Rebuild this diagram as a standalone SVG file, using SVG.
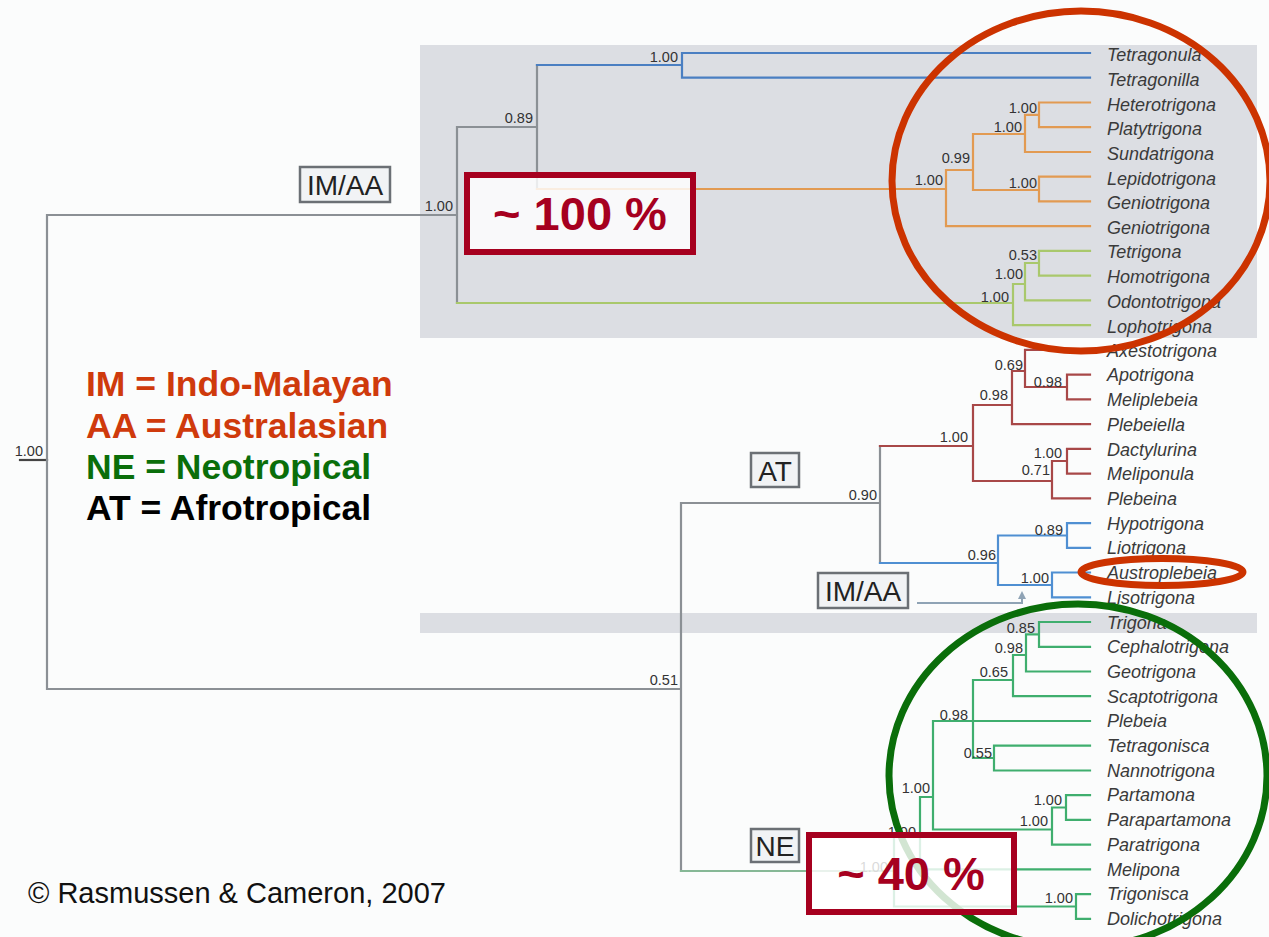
<svg xmlns="http://www.w3.org/2000/svg" width="1269" height="937" viewBox="0 0 1269 937">
  <defs>
    <style>
      .br { fill: none; stroke-width: 2.2; stroke-linecap: square; }
      .gray { stroke: #8b9095; }
      .blue { stroke: #4a7fc2; }
      .orange { stroke: #e29a52; }
      .lime { stroke: #a9c86c; }
      .red { stroke: #a84848; }
      .sky { stroke: #4f8fd2; }
      .green { stroke: #3fae6e; }
      .ne { stroke: #86b896; }
      .sup { font-family: "Liberation Sans", Arial, sans-serif; font-size: 14.5px; fill: #333; text-anchor: end; }
      .leaf text { font-family: "Liberation Sans", Arial, sans-serif; font-style: italic; font-size: 18px; fill: #3a3a3a; }
      .region rect { fill: #f1f3f5; stroke: #6b7075; stroke-width: 2.5; }
      .region text { font-family: "Liberation Sans", Arial, sans-serif; font-size: 28px; fill: #222; text-anchor: middle; }
      .pct rect { fill: #ffffff; fill-opacity: 0.82; stroke: #a6001f; stroke-width: 6; }
      .pct text { font-family: "Liberation Sans", Arial, sans-serif; font-weight: bold; font-size: 47px; fill: #a6001f; text-anchor: middle; }
      .legend text { font-family: "Liberation Sans", Arial, sans-serif; font-weight: bold; font-size: 35.5px; }
      .ring { fill: none; stroke-width: 7; }
    </style>
    <marker id="tip" viewBox="0 0 6 6" refX="3" refY="3" markerWidth="4" markerHeight="4" orient="auto">
      <path d="M0 0 L6 3 L0 6 Z" fill="#8fa3b5"/>
    </marker>
  </defs>

  <!-- page and shaded bands -->
  <rect x="0" y="0" width="1269" height="937" fill="#fbfcfc"/>
  <rect x="420" y="45" width="837" height="293" fill="#dcdee3"/>
  <rect x="420" y="613" width="837" height="20" fill="#dcdee3"/>

  <!-- branches -->
  <g id="connectors">
    <path class="br" stroke="#444" d="M20 460 H47"/>
    <path class="br gray" d="M47 215 V689 M47 215 H457 M47 689 H681 M457 127 V303 M457 127 H537 M537 65 V189 M681 503 V871 M681 503 H880 M880 446 V563"/>
    <path class="br blue" d="M537 65 H682 M682 53 V77.7 M682 53 H1090 M682 77.7 H1090"/>
    <path class="br orange" d="M537 189 H946 M946 170 V226.2 M946 226.2 H1090 M946 170 H973 M973 134 V190 M973 134 H1025 M1025 114.8 V152 M1025 152 H1090 M1025 114.8 H1039 M1039 102.5 V127.2 M1039 102.5 H1090 M1039 127.2 H1090 M973 190 H1039 M1039 176.7 V201.4 M1039 176.7 H1090 M1039 201.4 H1090"/>
    <path class="br lime" d="M457 303 H1013 M1013 284 V325.1 M1013 325.1 H1090 M1013 284 H1025 M1025 263 V300.4 M1025 300.4 H1090 M1025 263 H1039 M1039 250.9 V275.7 M1039 250.9 H1090 M1039 275.7 H1090"/>
    <path class="br red" d="M880 446 H973 M973 405 V481 M973 405 H1012 M1012 371 V424.1 M1012 424.1 H1090 M1012 371 H1025 M1025 349.9 V387 M1025 349.9 H1090 M1025 387 H1067 M1067 374.6 V399.4 M1067 374.6 H1090 M1067 399.4 H1090 M973 481 H1052 M1052 461 V498.3 M1052 498.3 H1090 M1052 461 H1067 M1067 448.8 V473.6 M1067 448.8 H1090 M1067 473.6 H1090"/>
    <path class="br sky" d="M880 563 H998 M998 535.5 V585 M998 535.5 H1067 M1067 523.1 V547.8 M1067 523.1 H1090 M1067 547.8 H1090 M998 585 H1052 M1052 572.5 V597.3 M1052 572.5 H1090 M1052 597.3 H1090"/>
    <path fill="none" stroke="#8fa3b5" stroke-width="2" d="M917 603 H1022 V595" marker-end="url(#tip)"/>
    <path class="br ne" d="M681 871 H894"/>
    <path class="br green" d="M894 834 V906.5 M894 906.5 H1076 M1076 894.2 V918.9 M1076 894.2 H1090 M1076 918.9 H1090 M894 834 H920 M920 797 V869.4 M920 869.4 H1090 M920 797 H933 M933 721 V829.5 M933 721 H1090 M933 829.5 H1052 M1052 807.5 V844.7 M1052 844.7 H1090 M1052 807.5 H1066 M1066 795.2 V819.9 M1066 795.2 H1090 M1066 819.9 H1090 M973 680 V758 M973 758 H994 M994 745.7 V770.5 M994 745.7 H1090 M994 770.5 H1090 M973 680 H1013 M1013 655 V696.2 M1013 696.2 H1090 M1013 655 H1026 M1026 634.4 V671.5 M1026 671.5 H1090 M1026 634.4 H1039 M1039 622 V646.8 M1039 622 H1090 M1039 646.8 H1090"/>
  </g>

  <!-- support values -->
  <g id="support">
    <text class="sup" x="43" y="456">1.00</text>
    <text class="sup" x="453" y="211">1.00</text>
    <text class="sup" x="533" y="123">0.89</text>
    <text class="sup" x="678" y="62">1.00</text>
    <text class="sup" x="943" y="185">1.00</text>
    <text class="sup" x="970" y="163">0.99</text>
    <text class="sup" x="1022" y="132">1.00</text>
    <text class="sup" x="1037" y="113">1.00</text>
    <text class="sup" x="1037" y="188">1.00</text>
    <text class="sup" x="1037" y="260">0.53</text>
    <text class="sup" x="1023" y="279">1.00</text>
    <text class="sup" x="1009" y="302">1.00</text>
    <text class="sup" x="877" y="500">0.90</text>
    <text class="sup" x="678" y="685">0.51</text>
    <text class="sup" x="968" y="442">1.00</text>
    <text class="sup" x="1008" y="400">0.98</text>
    <text class="sup" x="1023" y="370">0.69</text>
    <text class="sup" x="1062" y="387">0.98</text>
    <text class="sup" x="1062" y="458">1.00</text>
    <text class="sup" x="1050" y="475">0.71</text>
    <text class="sup" x="1063" y="535">0.89</text>
    <text class="sup" x="996" y="560">0.96</text>
    <text class="sup" x="1049" y="583">1.00</text>
    <text class="sup" x="1035" y="633">0.85</text>
    <text class="sup" x="1023" y="653">0.98</text>
    <text class="sup" x="1008" y="677">0.65</text>
    <text class="sup" x="968" y="720">0.98</text>
    <text class="sup" x="992" y="758">0.55</text>
    <text class="sup" x="1062" y="805">1.00</text>
    <text class="sup" x="1048" y="826">1.00</text>
    <text class="sup" x="930" y="793">1.00</text>
    <text class="sup" x="916" y="837">1.00</text>
    <text class="sup" x="888" y="872">1.00</text>
    <text class="sup" x="1073" y="903">1.00</text>
  </g>

  <!-- genera -->
  <g class="leaf">
    <g id="leaf-tetragonula"><text x="1107" y="61">Tetragonula</text></g>
    <g id="leaf-tetragonilla"><text x="1107" y="86">Tetragonilla</text></g>
    <g id="leaf-heterotrigona"><text x="1107" y="111">Heterotrigona</text></g>
    <g id="leaf-platytrigona"><text x="1107" y="135">Platytrigona</text></g>
    <g id="leaf-sundatrigona"><text x="1107" y="160">Sundatrigona</text></g>
    <g id="leaf-lepidotrigona"><text x="1107" y="185">Lepidotrigona</text></g>
    <g id="leaf-geniotrigona-1"><text x="1107" y="209">Geniotrigona</text></g>
    <g id="leaf-geniotrigona-2"><text x="1107" y="234">Geniotrigona</text></g>
    <g id="leaf-tetrigona"><text x="1107" y="258">Tetrigona</text></g>
    <g id="leaf-homotrigona"><text x="1107" y="283">Homotrigona</text></g>
    <g id="leaf-odontotrigona"><text x="1107" y="308">Odontotrigona</text></g>
    <g id="leaf-lophotrigona"><text x="1107" y="333">Lophotrigona</text></g>
    <g id="leaf-axestotrigona"><text x="1107" y="357">Axestotrigona</text></g>
    <g id="leaf-apotrigona"><text x="1107" y="381">Apotrigona</text></g>
    <g id="leaf-meliplebeia"><text x="1107" y="406">Meliplebeia</text></g>
    <g id="leaf-plebeiella"><text x="1107" y="431">Plebeiella</text></g>
    <g id="leaf-dactylurina"><text x="1107" y="456">Dactylurina</text></g>
    <g id="leaf-meliponula"><text x="1107" y="480">Meliponula</text></g>
    <g id="leaf-plebeina"><text x="1107" y="505">Plebeina</text></g>
    <g id="leaf-hypotrigona"><text x="1107" y="530">Hypotrigona</text></g>
    <g id="leaf-liotrigona"><text x="1107" y="554">Liotrigona</text></g>
    <g id="leaf-austroplebeia"><text x="1107" y="579">Austroplebeia</text></g>
    <g id="leaf-lisotrigona"><text x="1107" y="604">Lisotrigona</text></g>
    <g id="leaf-trigona"><text x="1107" y="629">Trigona</text></g>
    <g id="leaf-cephalotrigona"><text x="1107" y="653">Cephalotrigona</text></g>
    <g id="leaf-geotrigona"><text x="1107" y="678">Geotrigona</text></g>
    <g id="leaf-scaptotrigona"><text x="1107" y="703">Scaptotrigona</text></g>
    <g id="leaf-plebeia"><text x="1107" y="727">Plebeia</text></g>
    <g id="leaf-tetragonisca"><text x="1107" y="752">Tetragonisca</text></g>
    <g id="leaf-nannotrigona"><text x="1107" y="777">Nannotrigona</text></g>
    <g id="leaf-partamona"><text x="1107" y="801">Partamona</text></g>
    <g id="leaf-parapartamona"><text x="1107" y="826">Parapartamona</text></g>
    <g id="leaf-paratrigona"><text x="1107" y="851">Paratrigona</text></g>
    <g id="leaf-melipona"><text x="1107" y="876">Melipona</text></g>
    <g id="leaf-trigonisca"><text x="1107" y="900">Trigonisca</text></g>
    <g id="leaf-dolichotrigona"><text x="1107" y="925">Dolichotrigona</text></g>
  </g>

  <!-- biogeographic region tags -->
  <g class="region">
    <g id="tag-imaa-top"><rect x="300" y="167" width="90" height="35"/><text x="345" y="195">IM/AA</text></g>
    <g id="tag-at"><rect x="751" y="453" width="48" height="34"/><text x="775" y="481">AT</text></g>
    <g id="tag-imaa-low"><rect x="818" y="573" width="90" height="35"/><text x="863" y="601">IM/AA</text></g>
    <g id="tag-ne"><rect x="751" y="829" width="48" height="33"/><text x="775" y="856">NE</text></g>
  </g>

  <!-- highlight rings -->
  <g id="ring-imaa"><ellipse class="ring" cx="1081" cy="181" rx="189" ry="170" stroke="#cc3300"/></g>
  <g id="ring-austroplebeia"><ellipse class="ring" cx="1162" cy="572" rx="81" ry="13.5" stroke="#cc3300" stroke-width="5"/></g>
  <g id="ring-ne"><ellipse class="ring" cx="1078" cy="776" rx="189" ry="172" stroke="#0a6e0a"/></g>

  <!-- percentage callouts -->
  <g class="pct">
    <g id="pct-100"><rect x="467" y="175" width="226" height="77"/><text x="580" y="230">~ 100 %</text></g>
    <g id="pct-40"><rect x="809" y="835" width="205" height="77"/><text x="911" y="890">~ 40 %</text></g>
  </g>

  <!-- legend -->
  <g id="legend" class="legend">
    <text x="86" y="396" fill="#cf3a0c">IM = Indo-Malayan</text>
    <text x="86" y="438" fill="#cf3a0c">AA = Australasian</text>
    <text x="86" y="479" fill="#0a6e0a">NE = Neotropical</text>
    <text x="86" y="520" fill="#000">AT = Afrotropical</text>
  </g>

  <g id="credit">
    <text x="28" y="903" font-family="Liberation Sans, Arial, sans-serif" font-size="29" fill="#111">© Rasmussen &amp; Cameron, 2007</text>
  </g>
</svg>
